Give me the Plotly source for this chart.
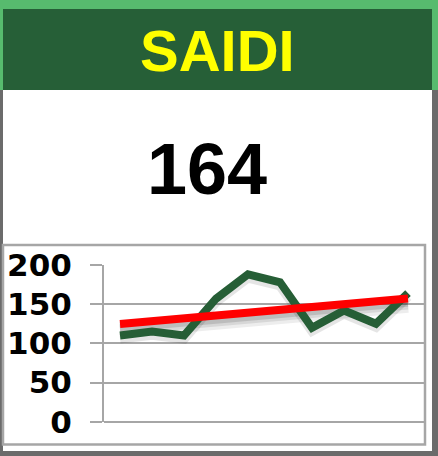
import numpy as np
import plotly.graph_objects as go

W, H = 438, 456

title_text = "SAIDI"
kpi_value = "164"
periods = [1, 2, 3, 4, 5, 6, 7, 8, 9, 10]
saidi_values = [110, 115, 110, 157, 188, 178, 120, 142, 125, 164]
y_ticks = [0, 50, 100, 150, 200]

# linear trend of the series
slope, intercept = np.polyfit(periods, saidi_values, 1)
trend_values = [slope * p + intercept for p in periods]

DARK_GREEN = "#265F37"
LIGHT_GREEN = "#57BB6E"
FRAME_GRAY = "#6B6B6B"
GRID_GRAY = "#A6A6A6"
LINE_GREEN = "#265E36"


def px(x):
    return x / W


def py(y):
    return 1 - y / H


fig = go.Figure()

# soft shadow of trend line
for off, wid, alpha in [(8, 16, 0.07), (7, 11, 0.09), (6, 7, 0.12)]:
    fig.add_trace(go.Scatter(x=periods, y=[v - off for v in trend_values], mode="lines",
                             line=dict(color=f"rgba(0,0,0,{alpha})", width=wid),
                             hoverinfo="skip", showlegend=False))
# soft shadow of data line
fig.add_trace(go.Scatter(x=periods, y=[v - 4 for v in saidi_values], mode="lines",
                         line=dict(color="rgba(0,0,0,0.10)", width=10),
                         hoverinfo="skip", showlegend=False))
# data line
fig.add_trace(go.Scatter(x=periods, y=saidi_values, mode="lines",
                         line=dict(color=LINE_GREEN, width=8),
                         showlegend=False))
# trend line
fig.add_trace(go.Scatter(x=periods, y=trend_values, mode="lines",
                         line=dict(color="#FF0000", width=8),
                         showlegend=False))

shapes = [
    # header
    dict(type="rect", xref="paper", yref="paper", x0=px(0), x1=px(W), y0=py(90), y1=py(0),
         fillcolor=LIGHT_GREEN, line=dict(width=0), layer="below"),
    dict(type="rect", xref="paper", yref="paper", x0=px(3), x1=px(432), y0=py(90), y1=py(9),
         fillcolor=DARK_GREEN, line=dict(width=0), layer="below"),
    # body frame
    dict(type="rect", xref="paper", yref="paper", x0=px(0), x1=px(W), y0=py(H), y1=py(90),
         fillcolor=FRAME_GRAY, line=dict(width=0), layer="below"),
    dict(type="rect", xref="paper", yref="paper", x0=px(3), x1=px(432), y0=py(451), y1=py(90),
         fillcolor="white", line=dict(width=0), layer="below"),
    # chart box
    dict(type="rect", xref="paper", yref="paper", x0=px(3), x1=px(425), y0=py(444.5), y1=py(245),
         fillcolor="rgba(0,0,0,0)", line=dict(color=GRID_GRAY, width=2.5), layer="below"),
]

annotations = [
    dict(text=title_text, xref="paper", yref="paper", x=px(217), y=py(51),
         xanchor="center", yanchor="middle", showarrow=False,
         font=dict(family="Liberation Sans", size=58, color="#FFFF00", weight="bold")),
    dict(text=kpi_value, xref="paper", yref="paper", x=px(207), y=py(169),
         xanchor="center", yanchor="middle", showarrow=False,
         font=dict(family="Liberation Sans", size=72, color="black", weight="bold")),
]

fig.update_layout(
    width=W, height=H, autosize=False,
    margin=dict(l=0, r=0, t=0, b=0, pad=0),
    paper_bgcolor="white", plot_bgcolor="rgba(0,0,0,0)",
    shapes=shapes, annotations=annotations,
    showlegend=False,
    xaxis=dict(domain=[px(104), px(424)], range=[0.5, 10.5],
               showgrid=False, zeroline=False, showline=False,
               showticklabels=False, ticks="", fixedrange=True),
    yaxis=dict(domain=[py(421.7), py(265)], range=[0, 200],
               tickvals=y_ticks, ticktext=[str(t) for t in y_ticks],
               showgrid=True, gridcolor=GRID_GRAY, gridwidth=2,
               zeroline=True, zerolinecolor=GRID_GRAY, zerolinewidth=2,
               showline=True, linecolor=GRID_GRAY, linewidth=2,
               ticks="outside", ticklen=12, tickwidth=2, tickcolor=GRID_GRAY,
               ticklabelstandoff=12, automargin=False,
               tickfont=dict(family="DejaVu Sans", size=31, color="black", weight="bold"),
               fixedrange=True),
)

fig.write_html(
    "out.html",
    config={"displayModeBar": False, "responsive": False},
    post_script="document.body.style.margin='0';document.body.style.padding='0';"
                "document.documentElement.style.overflow='hidden';",
)
